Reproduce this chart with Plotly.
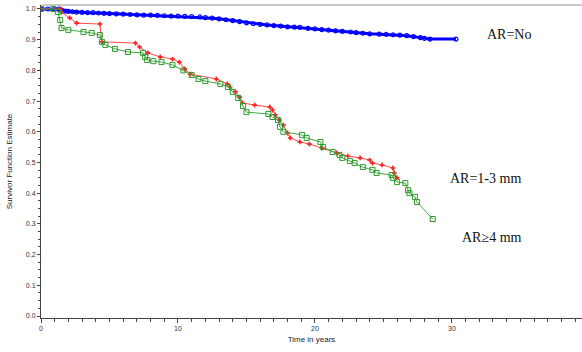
import plotly.graph_objects as go

# AR = No (blue)
t_no = [0, 0.5, 1.0, 1.3, 1.4, 1.5, 1.6, 1.8, 2.0, 2.3, 2.6, 3.0, 3.4, 3.8, 4.2, 4.6, 5.0, 5.5,
        6.0, 6.5, 7.0, 7.5, 8.0, 8.5, 9.0, 9.5, 10.0, 10.5, 11.0, 11.6, 12.0, 12.5, 13.0, 13.5,
        14.0, 14.5, 15.0, 15.5, 16.0, 16.5, 17.0, 17.5, 18.0, 18.5, 18.9, 19.5, 20.0, 20.5,
        21.0, 21.5, 22.0, 22.6, 23.0, 23.5, 24.0, 24.7, 25.2, 25.7, 26.2, 26.7, 27.2, 27.7,
        28.0, 28.4, 30.3]
s_no = [1.0, 1.0, 1.0, 1.0, 0.998, 0.996, 0.994, 0.993, 0.992, 0.991, 0.990, 0.989, 0.988,
        0.988, 0.987, 0.986, 0.985, 0.984, 0.983, 0.982, 0.981, 0.980, 0.980, 0.979, 0.978,
        0.977, 0.977, 0.976, 0.975, 0.974, 0.972, 0.970, 0.968, 0.965, 0.962, 0.959, 0.955,
        0.952, 0.950, 0.948, 0.946, 0.944, 0.942, 0.941, 0.940, 0.937, 0.935, 0.933, 0.931,
        0.929, 0.927, 0.925, 0.923, 0.921, 0.919, 0.918, 0.917, 0.916, 0.915, 0.913, 0.910,
        0.907, 0.904, 0.902, 0.902]

# AR = 1-3 mm (red)
t_13 = [0, 1.4, 1.5, 2.1, 2.6, 4.3, 4.45, 6.9, 7.2, 7.8, 8.7, 9.6, 10.1, 10.5, 10.9, 12.8,
        13.6, 13.8, 14.2, 14.5, 14.7, 15.6, 16.7, 16.9, 17.1, 17.4, 17.7, 18.0, 18.2, 18.9,
        19.6, 20.5, 21.6, 22.4, 23.3, 24.0, 24.2, 24.9, 25.7, 25.8, 26.0]
s_13 = [1.0, 1.0, 0.990, 0.971, 0.954, 0.951, 0.893, 0.889, 0.876, 0.857, 0.844, 0.837, 0.827,
        0.805, 0.788, 0.772, 0.756, 0.746, 0.730, 0.713, 0.694, 0.687, 0.681, 0.671, 0.655,
        0.638, 0.622, 0.596, 0.580, 0.567, 0.560, 0.547, 0.531, 0.521, 0.515, 0.508, 0.498,
        0.492, 0.482, 0.466, 0.450]

# AR >= 4 mm (green)
t_4 = [0, 0.9, 1.25, 1.4, 1.5, 2.0, 3.1, 3.7, 4.3, 4.45, 4.7, 5.4, 6.35, 7.45, 7.6, 7.75, 8.2,
       8.8, 9.6, 10.4, 11.0, 11.5, 12.0, 13.1, 13.65, 14.0, 14.4, 14.75, 15.0, 16.6, 16.9,
       17.3, 17.45, 17.7, 19.05, 19.4, 20.4, 20.6, 21.3, 21.8, 22.0, 22.55, 22.9, 23.5, 24.2,
       24.5, 25.6, 25.7, 26.0, 26.6, 26.8, 26.9, 27.3, 27.45, 28.6]
s_4 = [1.0, 1.0, 0.990, 0.964, 0.938, 0.932, 0.925, 0.922, 0.915, 0.893, 0.883, 0.870, 0.860,
       0.857, 0.844, 0.834, 0.830, 0.827, 0.818, 0.800, 0.785, 0.772, 0.765, 0.756, 0.746,
       0.730, 0.710, 0.684, 0.664, 0.658, 0.648, 0.638, 0.616, 0.600, 0.590, 0.580, 0.567,
       0.550, 0.534, 0.524, 0.515, 0.505, 0.498, 0.485, 0.476, 0.466, 0.459, 0.450, 0.436,
       0.433, 0.410, 0.400, 0.388, 0.371, 0.316]

x_ticks = [0, 10, 20, 30]
y_ticks = [0.0, 0.1, 0.2, 0.3, 0.4, 0.5, 0.6, 0.7, 0.8, 0.9, 1.0]

labels = ["AR=No", "AR=1-3 mm", "AR≥4 mm"]

fig = go.Figure()
fig.add_trace(go.Scatter(x=t_no, y=s_no, mode="lines+markers",
                         line=dict(color="#0000ff", width=3),
                         marker=dict(symbol="circle-open", size=4, color="#0000ff", line=dict(width=1.2)),
                         name=labels[0]))
fig.add_trace(go.Scatter(x=t_13, y=s_13, mode="lines+markers",
                         line=dict(color="#ff4a4a", width=1),
                         marker=dict(symbol="cross", size=4, color="#ff2020"),
                         name=labels[1]))
fig.add_trace(go.Scatter(x=t_4, y=s_4, mode="lines+markers",
                         line=dict(color="#3fa83f", width=1),
                         marker=dict(symbol="square-open", size=5, color="#2e9a2e", line=dict(width=1)),
                         name=labels[2]))

ann_pos = [(0.821, 0.907), (0.752, 0.447), (0.7745, 0.256)]
for lab, (ax, ay) in zip(labels, ann_pos):
    fig.add_annotation(text=lab, x=ax, y=ay, xref="paper", yref="paper",
                       xanchor="left", yanchor="middle", showarrow=False,
                       font=dict(family="Liberation Serif", size=14, color="#111"))

fig.add_shape(type="line", xref="paper", yref="paper", x0=0, x1=1, y0=1, y1=1,
              line=dict(color="#c8c8c8", width=2))

fig.update_layout(
    width=582, height=352,
    margin=dict(l=41, r=0, t=5, b=34),
    plot_bgcolor="white", paper_bgcolor="white",
    showlegend=False,
    font=dict(family="Arial", size=7, color="#333"),
)
fig.update_xaxes(range=[0, 39.5], tickvals=x_ticks, ticktext=[str(v) for v in x_ticks],
                 automargin=False,
                 showgrid=False, zeroline=False, showline=True, linecolor="#444", linewidth=1,
                 ticks="outside", ticklen=4, tickcolor="#444",
                 minor=dict(dtick=1, ticks="outside", ticklen=3, tickcolor="#444"),
                 title=dict(text="Time in years", font=dict(size=8, color="#222"), standoff=4),
                 tickfont=dict(size=7))
fig.update_yaxes(range=[-0.0065, 1.013], tickvals=y_ticks, ticktext=[f"{v:.1f}" for v in y_ticks],
                 automargin=False,
                 showgrid=False, zeroline=False, showline=True, linecolor="#444", linewidth=1,
                 ticks="outside", ticklen=3, tickcolor="#444",
                 minor=dict(dtick=0.025, ticks="outside", ticklen=2, tickcolor="#444"),
                 title=dict(text="Survivor Function Estimate", font=dict(size=8, color="#222"), standoff=12),
                 tickfont=dict(size=7))

fig.write_html("out.html", config={"displayModeBar": False},
               post_script="document.body.style.margin='0px';")
